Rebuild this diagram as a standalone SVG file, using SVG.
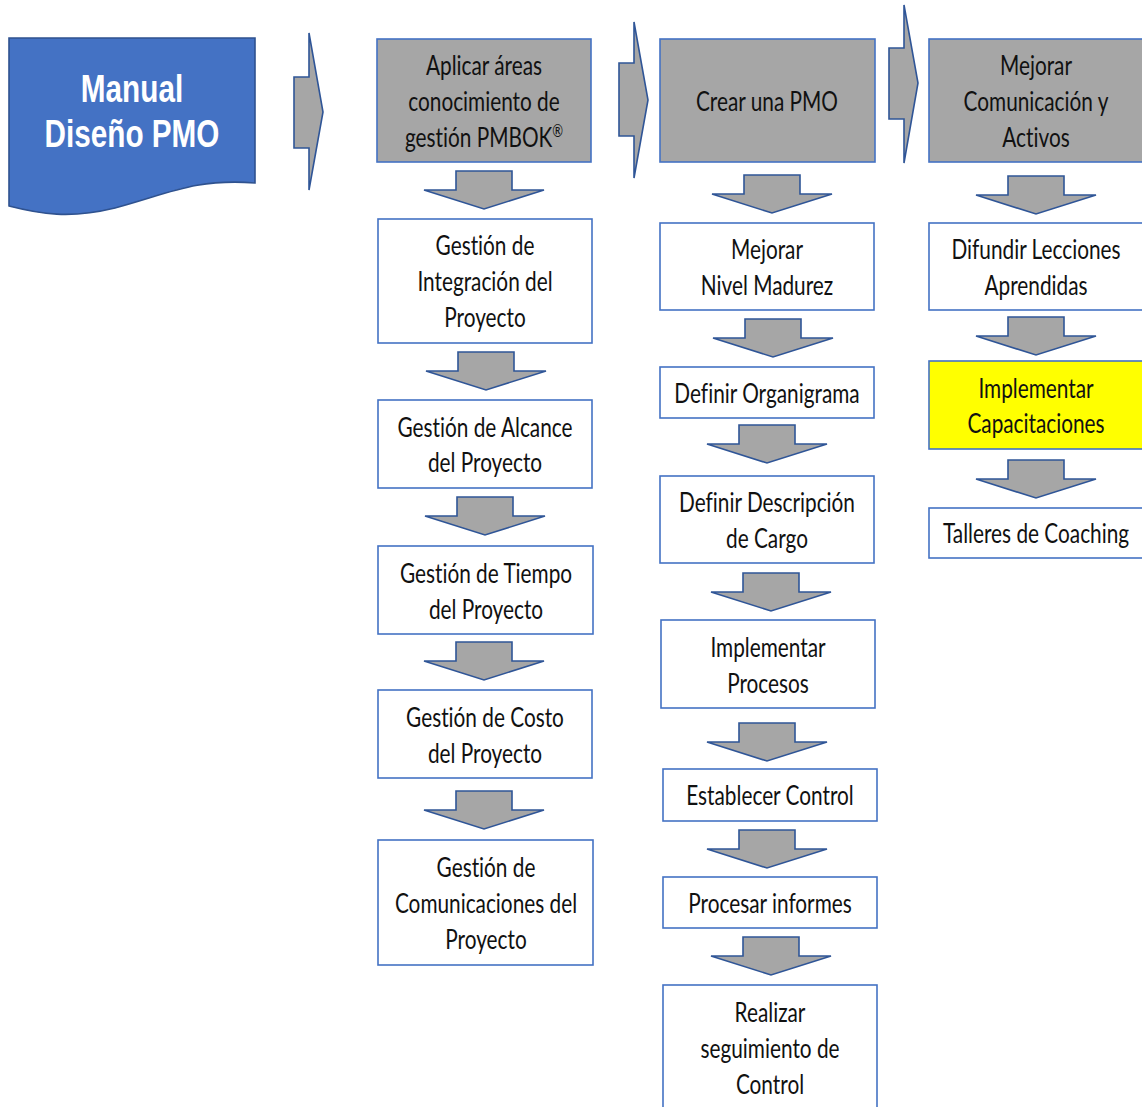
<svg xmlns="http://www.w3.org/2000/svg" width="1142" height="1107" viewBox="0 0 1142 1107">
  <style>
    .box { fill: #ffffff; stroke: #4472c4; stroke-width: 1.6; }
    .head { fill: #a6a6a6; stroke: #4472c4; stroke-width: 1.6; }
    .hl { fill: #ffff00; stroke: #4472c4; stroke-width: 1.6; }
    .arr { fill: #a6a6a6; stroke: #2f5597; stroke-width: 1.6; stroke-linejoin: miter; }
    .t { font-family: Lato, "Liberation Sans", sans-serif; font-size: 20.8px; fill: #111111; text-anchor: middle; font-variant-ligatures: none; }
    .title { font-family: "Liberation Sans", Arial, sans-serif; font-weight: bold; font-size: 29.7px; fill: #ffffff; text-anchor: middle; }
  </style>
  <defs>
    <!-- block arrow pointing down, origin at top centre of the shaft -->
    <path id="down" class="arr" d="M-28,0 H28 V19 H60 L0,38 L-60,19 H-28 Z"/>
  </defs>

  <rect width="1142" height="1107" fill="#ffffff"/>

  <!-- connectors -->
  <g id="connectors">
    <path class="arr" d="M294,77 H309 V33 L323,112 L309,190 V148 H294 Z"/>
    <path class="arr" d="M619,63 H634 V22 L648,100 L634,178 V136 H619 Z"/>
    <path class="arr" d="M889,48 H904 V5 L918,83 L904,163 V119 H889 Z"/>

    <use href="#down" x="484" y="171"/>
    <use href="#down" x="486" y="352"/>
    <use href="#down" x="485" y="497"/>
    <use href="#down" x="484" y="642"/>
    <use href="#down" x="484" y="791"/>

    <use href="#down" x="772" y="175"/>
    <use href="#down" x="773" y="319"/>
    <use href="#down" x="767" y="425"/>
    <use href="#down" x="771" y="573"/>
    <use href="#down" x="767" y="723"/>
    <use href="#down" x="767" y="830"/>
    <use href="#down" x="771" y="937"/>

    <use href="#down" x="1036" y="176"/>
    <use href="#down" x="1036" y="317"/>
    <use href="#down" x="1036" y="460"/>
  </g>

  <!-- document shape -->
  <g id="manual">
    <path d="M9,38 H255 V183 C195,178 165,195 115,208 C70,219 40,214 9,206 Z" fill="#4472c4" stroke="#2f528f" stroke-width="1.6"/>
    <text class="title" transform="translate(132 102) scale(1 1.3)">Manual</text>
    <text class="title" transform="translate(132 147) scale(1 1.3)">Diseño PMO</text>
  </g>

  <!-- column 1 -->
  <g id="aplicar">
    <rect class="head" x="377" y="39" width="214" height="123"/>
    <text class="t" transform="translate(484 75) scale(1 1.3)">Aplicar áreas</text>
    <text class="t" transform="translate(484 111) scale(1 1.3)">conocimiento de</text>
    <text class="t" transform="translate(484 147) scale(1 1.3)">gestión PMBOK<tspan font-size="13" dy="-8">®</tspan></text>
  </g>
  <g id="integracion">
    <rect class="box" x="378" y="219" width="214" height="124"/>
    <text class="t" transform="translate(485 255) scale(1 1.3)">Gestión de</text>
    <text class="t" transform="translate(485 291) scale(1 1.3)">Integración del</text>
    <text class="t" transform="translate(485 327) scale(1 1.3)">Proyecto</text>
  </g>
  <g id="alcance">
    <rect class="box" x="378" y="400" width="214" height="88"/>
    <text class="t" transform="translate(485 437) scale(1 1.3)">Gestión de Alcance</text>
    <text class="t" transform="translate(485 472) scale(1 1.3)">del Proyecto</text>
  </g>
  <g id="tiempo">
    <rect class="box" x="378" y="546" width="215" height="88"/>
    <text class="t" transform="translate(486 583) scale(1 1.3)">Gestión de Tiempo</text>
    <text class="t" transform="translate(486 619) scale(1 1.3)">del Proyecto</text>
  </g>
  <g id="costo">
    <rect class="box" x="378" y="690" width="214" height="88"/>
    <text class="t" transform="translate(485 727) scale(1 1.3)">Gestión de Costo</text>
    <text class="t" transform="translate(485 763) scale(1 1.3)">del Proyecto</text>
  </g>
  <g id="comunicaciones">
    <rect class="box" x="378" y="840" width="215" height="125"/>
    <text class="t" transform="translate(486 877) scale(1 1.3)">Gestión de</text>
    <text class="t" transform="translate(486 913) scale(1 1.3)">Comunicaciones del</text>
    <text class="t" transform="translate(486 949) scale(1 1.3)">Proyecto</text>
  </g>

  <!-- column 2 -->
  <g id="crear-pmo">
    <rect class="head" x="660" y="39" width="215" height="123"/>
    <text class="t" transform="translate(767 111) scale(1 1.3)">Crear una PMO</text>
  </g>
  <g id="madurez">
    <rect class="box" x="660" y="223" width="214" height="87"/>
    <text class="t" transform="translate(767 259) scale(1 1.3)">Mejorar</text>
    <text class="t" transform="translate(767 295) scale(1 1.3)">Nivel Madurez</text>
  </g>
  <g id="organigrama">
    <rect class="box" x="660" y="367" width="214" height="51"/>
    <text class="t" transform="translate(767 403) scale(1 1.3)">Definir Organigrama</text>
  </g>
  <g id="descripcion">
    <rect class="box" x="660" y="476" width="214" height="87"/>
    <text class="t" transform="translate(767 512) scale(1 1.3)">Definir Descripción</text>
    <text class="t" transform="translate(767 548) scale(1 1.3)">de Cargo</text>
  </g>
  <g id="procesos">
    <rect class="box" x="661" y="620" width="214" height="88"/>
    <text class="t" transform="translate(768 657) scale(1 1.3)">Implementar</text>
    <text class="t" transform="translate(768 693) scale(1 1.3)">Procesos</text>
  </g>
  <g id="control">
    <rect class="box" x="663" y="769" width="214" height="52"/>
    <text class="t" transform="translate(770 805) scale(1 1.3)">Establecer Control</text>
  </g>
  <g id="informes">
    <rect class="box" x="663" y="877" width="214" height="51"/>
    <text class="t" transform="translate(770 913) scale(1 1.3)">Procesar informes</text>
  </g>
  <g id="seguimiento">
    <rect class="box" x="663" y="985" width="214" height="130"/>
    <text class="t" transform="translate(770 1022) scale(1 1.3)">Realizar</text>
    <text class="t" transform="translate(770 1058) scale(1 1.3)">seguimiento de</text>
    <text class="t" transform="translate(770 1094) scale(1 1.3)">Control</text>
  </g>

  <!-- column 3 -->
  <g id="comunicacion-activos">
    <rect class="head" x="929" y="39" width="215" height="123"/>
    <text class="t" transform="translate(1036 75) scale(1 1.3)">Mejorar</text>
    <text class="t" transform="translate(1036 111) scale(1 1.3)">Comunicación y</text>
    <text class="t" transform="translate(1036 147) scale(1 1.3)">Activos</text>
  </g>
  <g id="lecciones">
    <rect class="box" x="929" y="223" width="215" height="87"/>
    <text class="t" transform="translate(1036 259) scale(1 1.3)">Difundir Lecciones</text>
    <text class="t" transform="translate(1036 295) scale(1 1.3)">Aprendidas</text>
  </g>
  <g id="capacitaciones">
    <rect class="hl" x="929" y="361" width="215" height="88"/>
    <text class="t" transform="translate(1036 398) scale(1 1.3)">Implementar</text>
    <text class="t" transform="translate(1036 433) scale(1 1.3)">Capacitaciones</text>
  </g>
  <g id="coaching">
    <rect class="box" x="929" y="508" width="215" height="50"/>
    <text class="t" transform="translate(1036 543) scale(1 1.3)">Talleres de Coaching</text>
  </g>
</svg>
